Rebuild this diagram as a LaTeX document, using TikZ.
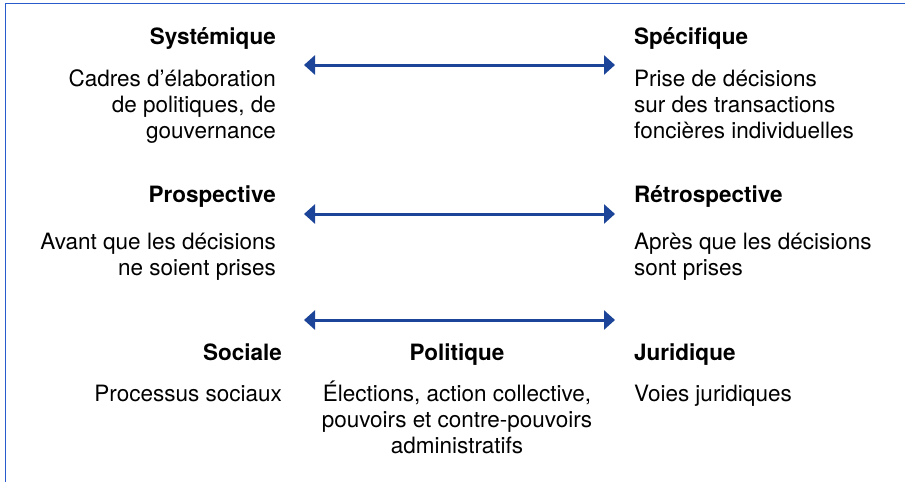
\documentclass[tikz,border=0pt]{standalone}
\usepackage{fontspec}
\setmainfont{TeX Gyre Heros}
\usetikzlibrary{arrows.meta}
\definecolor{arrowblue}{RGB}{28,68,152}
\definecolor{frameblue}{RGB}{40,92,205}
\tikzset{
  txt/.style={inner sep=0pt, font=\fontsize{22.5}{26.3}\selectfont},
  ttl/.style={txt, font=\fontsize{22.5}{26.3}\selectfont\bfseries},
  lcol/.style={anchor=base east, align=right},
  rcol/.style={anchor=base west, align=left},
  ccol/.style={anchor=base, align=center},
  biarrow/.style={draw=arrowblue, line width=3pt, {Triangle[length=11pt,width=19pt]}-{Triangle[length=11pt,width=19pt]}},
  frame/.style={draw=frameblue, line width=1.8pt}
}
\begin{document}
\begin{tikzpicture}[x=1pt,y=-1pt]
\useasboundingbox (0,0) rectangle (905,482);
% frame
\coordinate (ftr) at (905,3.5);
\coordinate (ftl) at (5.5,3.5);
\coordinate (fbl) at (5.5,482);
\draw[frame] (ftr) -- (ftl) -- (fbl);
% row 1 (multi-line nodes are placed by the baseline of their last line)
\node[ttl, lcol] (sys) at (276,44) {Systémique};
\node[txt, lcol] (sysd) at (276,138.6) {Cadres d’élaboration\\de politiques, de\\gouvernance};
\node[ttl, rcol] (spe) at (634,44) {Spécifique};
\node[txt, rcol] (sped) at (634,138.6) {Prise de décisions\\sur des transactions\\foncières individuelles};
\coordinate (a1l) at (304,65);
\coordinate (a1r) at (615,65);
\draw[biarrow] (a1l) -- (a1r);
% row 2
\node[ttl, lcol] (pro) at (276,202) {Prospective};
\node[txt, lcol] (prod) at (276,275.3) {Avant que les décisions\\ne soient prises};
\node[ttl, rcol] (ret) at (634,202) {Rétrospective};
\node[txt, rcol] (retd) at (634,275.3) {Après que les décisions\\sont prises};
\coordinate (a2l) at (304,214);
\coordinate (a2r) at (615,214);
\draw[biarrow] (a2l) -- (a2r);
% row 3
\coordinate (a3l) at (304,320);
\coordinate (a3r) at (615,320);
\draw[biarrow] (a3l) -- (a3r);
\node[ttl, lcol] (soc) at (282,360) {Sociale};
\node[txt, lcol] (socd) at (282,401) {Processus sociaux};
\node[ttl, ccol] (pol) at (457,360) {Politique};
\node[txt, ccol] (pold) at (457,453.6) {Élections, action collective,\\pouvoirs et contre-pouvoirs\\administratifs};
\node[ttl, rcol] (jur) at (634,360) {Juridique};
\node[txt, rcol] (jurd) at (634,401) {Voies juridiques};
\end{tikzpicture}
\end{document}
